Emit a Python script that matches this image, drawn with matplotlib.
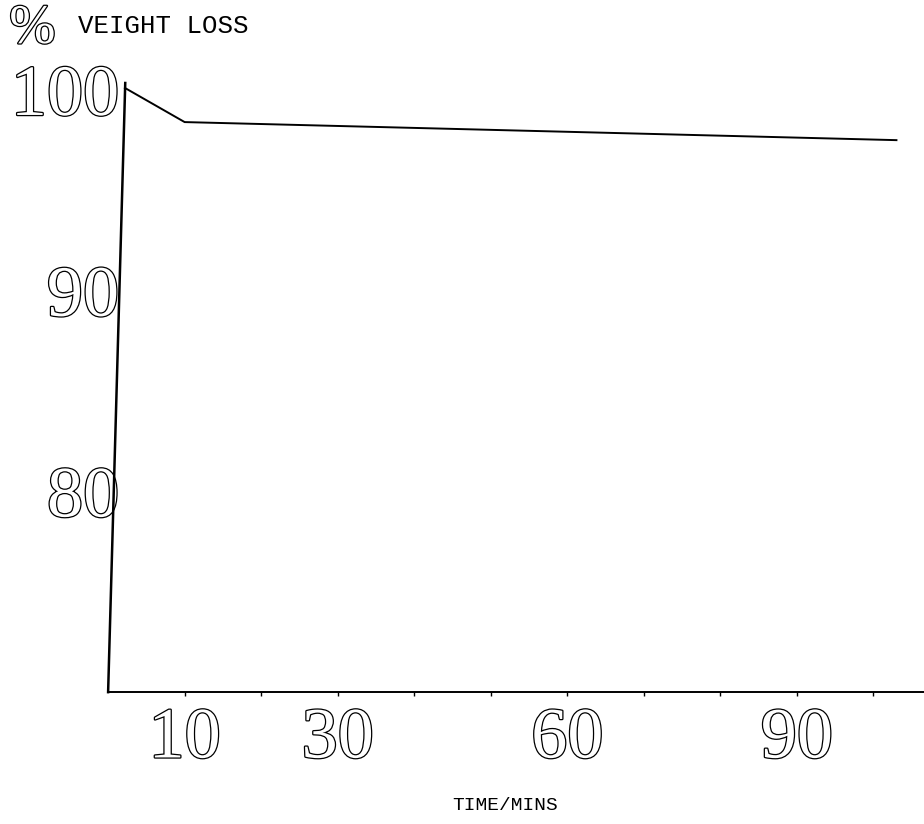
import matplotlib
matplotlib.use("Agg")
from matplotlib import pyplot as plt
import matplotlib.patheffects as pe
#
time_min = [2.2, 10, 103]
weight_pct = [100.1, 98.4, 97.5]
xticks = [10, 20, 30, 40, 50, 60, 70, 80, 90, 100]
xlabels = ['10', '', '30', '', '', '60', '', '', '90', '']
yticks = [80, 90, 100]
ylabels = ['80', '90', '100']
#
outline = [pe.withStroke(linewidth=1.8, foreground='black')]
#
fig = plt.figure(figsize=(9.24, 8.24), dpi=100)
ax = fig.add_axes([0.117, 0.160, 0.883, 0.743])
ax.plot(time_min, weight_pct, color='black', lw=1.4)
ax.set_xlim(0, 106.6)
ax.set_ylim(70, 100.5)
#
# hand drawn, slightly leaning y axis
ax.plot([0.0, 0.021], [0.0, 0.995], transform=ax.transAxes, color='black',
        lw=1.8, clip_on=False)
ax.spines['top'].set_visible(False)
ax.spines['right'].set_visible(False)
ax.spines['left'].set_visible(False)
ax.spines['bottom'].set_linewidth(1.4)
#
ax.set_xticks(xticks)
ax.set_xticklabels(xlabels)
ax.set_yticks(yticks)
ax.set_yticklabels(ylabels)
ax.tick_params(axis='x', direction='out', length=3, width=1, pad=8)
ax.tick_params(axis='y', length=0, pad=-8)
for lab in ax.get_xticklabels() + ax.get_yticklabels():
    lab.set_fontfamily('Liberation Serif')
    lab.set_fontsize(52)
    lab.set_color('white')
    lab.set_path_effects(outline)
#
fig.text(0.010, 0.965, '%', fontsize=40, family='Liberation Serif',
         color='white', path_effects=outline, va='center')
fig.text(0.084, 0.968, 'VEIGHT LOSS', fontsize=18.5, family='Liberation Mono',
         va='center')
fig.text(0.547, 0.022, 'TIME/MINS', fontsize=14, family='Liberation Mono',
         ha='center', va='center')
#
fig.savefig('out.png', dpi=100)
